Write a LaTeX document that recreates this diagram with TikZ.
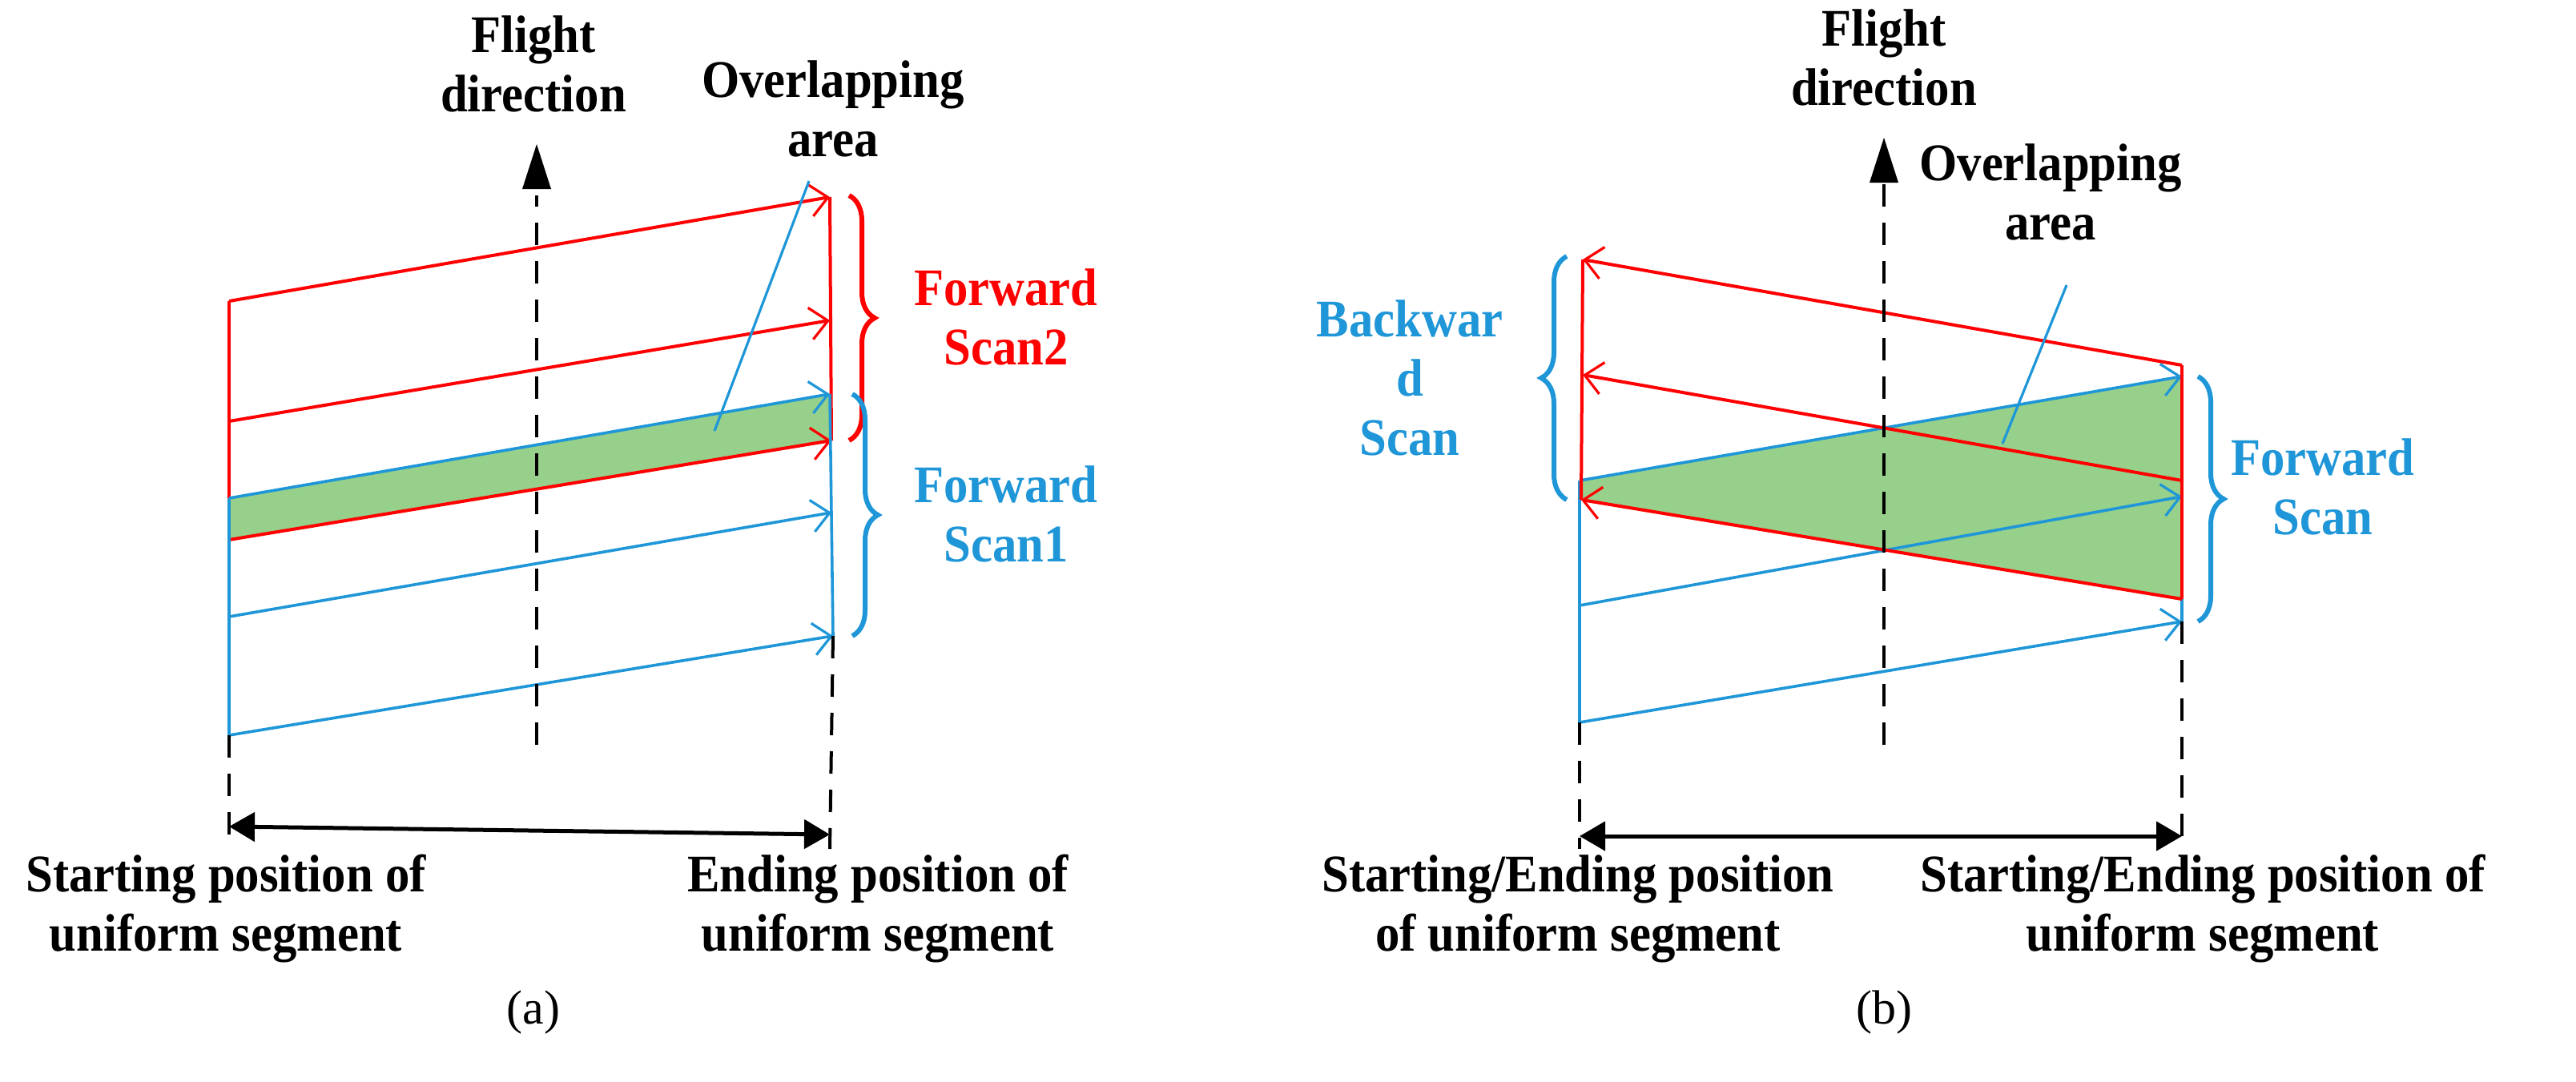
\documentclass[tikz,border=0pt]{standalone}
\usepackage{fontspec}
\setmainfont{Liberation Serif}
\usetikzlibrary{arrows.meta,decorations.pathreplacing}
\definecolor{rd}{RGB}{255,0,0}
\definecolor{bl}{RGB}{30,150,215}
\definecolor{gr}{RGB}{150,208,138}
\newcommand\sqz[1]{\scalebox{0.92}[1]{\begin{tabular}{@{}c@{}}#1\end{tabular}}}
\tikzset{
 redl/.style={draw=rd,line width=2pt},
 bluel/.style={draw=bl,line width=1.8pt},
 barb/.style={-{Straight Barb[length=11pt,width=20pt,line width=1.6pt]}},
 dsh/.style={draw=black,line width=2pt,dash pattern=on 14pt off 10pt},
 lbl/.style={font=\bfseries\fontsize{33}{37}\selectfont,inner sep=0pt},
 captxt/.style={font=\fontsize{30}{33}\selectfont,inner sep=0pt},
 brc/.style={decorate,decoration={brace,amplitude=16pt},line width=3pt}
}
\begin{document}
\begin{tikzpicture}[x=1pt,y=-1pt]
\useasboundingbox (0,0) rectangle (1608,675);
% ---------- panel (a)
\fill[gr] (143,311) -- (518,246) -- (518,275) -- (143,337) -- cycle;
\coordinate (aR1s) at (143,188); \coordinate (aR1e) at (518,123);
\coordinate (aR2s) at (143,263); \coordinate (aR2e) at (518,200);
\coordinate (aR3s) at (143,337); \coordinate (aR3e) at (519,275);
\coordinate (aB1s) at (143,311); \coordinate (aB1e) at (518,246);
\coordinate (aB2s) at (143,385); \coordinate (aB2e) at (519,320);
\coordinate (aB3s) at (143,459); \coordinate (aB3e) at (520,397);
\draw[redl] (aR3s) -- (aR1s);
\draw[redl] (aR1e) -- (aR3e);
\draw[redl,barb] (aR1s) -- (aR1e);
\draw[redl,barb] (aR2s) -- (aR2e);
\draw[redl,barb] (aR3s) -- (aR3e);
\draw[bluel] (aB1s) -- (aB3s);
\draw[bluel] (aB1e) -- (aB3e);
\draw[bluel,barb] (aB1s) -- (aB1e);
\draw[bluel,barb] (aB2s) -- (aB2e);
\draw[bluel,barb] (aB3s) -- (aB3e);
\coordinate (aFb) at (335,465); \coordinate (aFt) at (335,90);
\draw[dsh] (aFb) -- (335,122);
\fill (aFt) -- (326,118) -- (344,118) -- cycle;
\node[lbl] (aFlight) at (333,44) {\sqz{Flight\\direction}};
\node[lbl] (aOver) at (520,72) {\sqz{Overlapping\\area}};
\coordinate (aLs) at (505,113); \coordinate (aLe) at (446,269);
\draw[bl,line width=1.6pt] (aLs) -- (aLe);
\draw[rd,brc] (530,122) -- (530,275);
\draw[bl,brc] (532,246) -- (532,397);
\node[lbl,text=rd] (aFS2) at (628,202) {\sqz{Forward\\Scan2}};
\node[lbl,text=bl] (aFS1) at (628,325) {\sqz{Forward\\Scan1}};
\coordinate (aDL) at (143,530); \coordinate (aDR) at (518,530);
\draw[dsh] (aB3s) -- (aDL);
\draw[dsh] (aB3e) -- (aDR);
\draw[line width=2.5pt,{Triangle[length=16pt,width=18pt]}-{Triangle[length=16pt,width=18pt]}] (143,516) -- (518,521);
\node[lbl] (aSt) at (141,568) {\sqz{Starting position of\\uniform segment}};
\node[lbl] (aEn) at (548,568) {\sqz{Ending position of\\uniform segment}};
\node[captxt] (acap) at (333,632) {(a)};
% ---------- panel (b)
\fill[gr] (986,300) -- (1362,235) -- (1362,374) -- (986,312) -- cycle;
\coordinate (bR1s) at (988,162); \coordinate (bR1e) at (1362,228);
\coordinate (bR2s) at (988,234); \coordinate (bR2e) at (1362,300);
\coordinate (bR3s) at (987,312); \coordinate (bR3e) at (1362,374);
\coordinate (bB1s) at (986,300); \coordinate (bB1e) at (1362,235);
\coordinate (bB2s) at (986,378); \coordinate (bB2e) at (1362,310);
\coordinate (bB3s) at (986,451); \coordinate (bB3e) at (1362,388);
\draw[bluel] (bB1s) -- (bB3s);
\draw[bluel] (bB1e) -- (bB3e);
\draw[bluel,barb] (bB1s) -- (bB1e);
\draw[bluel,barb] (bB2s) -- (bB2e);
\draw[bluel,barb] (bB3s) -- (bB3e);
\draw[redl] (bR1s) -- (bR3s);
\draw[redl] (bR1e) -- (bR3e);
\draw[redl,barb] (bR1e) -- (bR1s);
\draw[redl,barb] (bR2e) -- (bR2s);
\draw[redl,barb] (bR3e) -- (bR3s);
\coordinate (bFb) at (1176,465); \coordinate (bFt) at (1176,86);
\draw[dsh] (bFb) -- (1176,114);
\fill (bFt) -- (1167,114) -- (1185,114) -- cycle;
\node[lbl] (bFlight) at (1176,40) {\sqz{Flight\\direction}};
\node[lbl] (bOver) at (1280,124) {\sqz{Overlapping\\area}};
\coordinate (bLs) at (1290,178); \coordinate (bLe) at (1250,277);
\draw[bl,line width=1.6pt] (bLs) -- (bLe);
\draw[bl,brc] (978,312) -- (978,160);
\draw[bl,brc] (1372,235) -- (1372,388);
\node[lbl,text=bl] (bBS) at (880,240) {\sqz{Backwar\\d\\Scan}};
\node[lbl,text=bl] (bFS) at (1450,308) {\sqz{Forward\\Scan}};
\coordinate (bDL) at (986,530); \coordinate (bDR) at (1362,530);
\draw[dsh] (bB3s) -- (bDL);
\draw[dsh] (bB3e) -- (bDR);
\draw[line width=2.5pt,{Triangle[length=16pt,width=18pt]}-{Triangle[length=16pt,width=18pt]}] (986,522) -- (1362,522);
\node[lbl] (bSt) at (985,568) {\sqz{Starting/Ending position\\of uniform segment}};
\node[lbl] (bEn) at (1375,568) {\sqz{Starting/Ending position of\\uniform segment}};
\node[captxt] (bcap) at (1176,632) {(b)};
\end{tikzpicture}
\end{document}
